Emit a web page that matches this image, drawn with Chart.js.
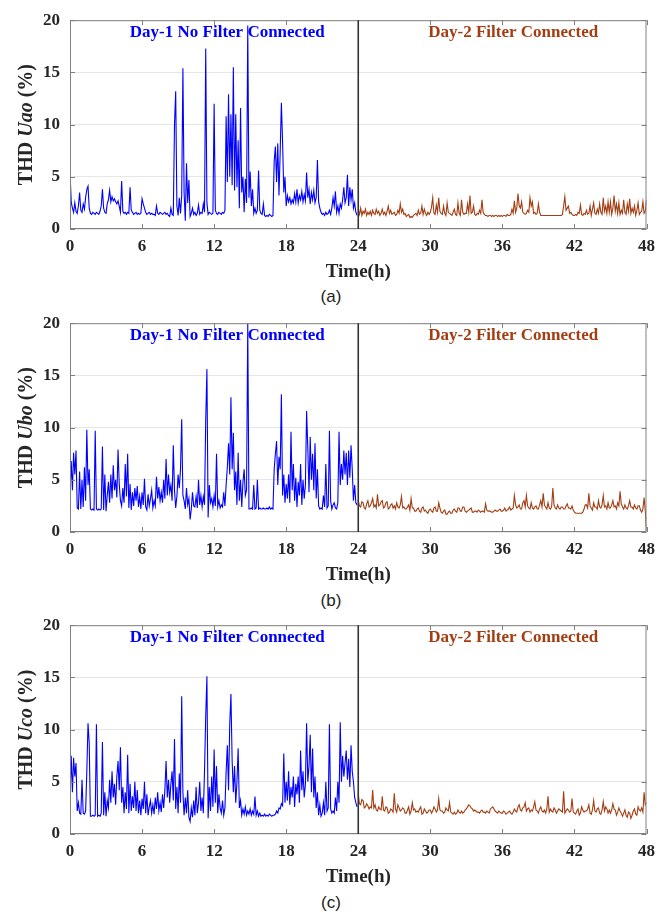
<!DOCTYPE html>
<html lang="en">
<head>
<meta charset="UTF-8">
<title>THD with and without filter</title>
<script src="https://cdn.jsdelivr.net/npm/chart.js"></script>
<style>
    body { margin: 0; background: #fff; }
    .panel { position: absolute; left: 0; width: 662px; height: 285px; }
    .caption {
        position: absolute; left: 0; width: 662px; text-align: center;
        font-family: "Liberation Sans", Arial, sans-serif; font-size: 17px; color: #222;
    }
</style>
</head>
<body>
<div class="panel" style="top:0px"><canvas id="chartA" width="662" height="285"></canvas></div>
<div class="caption" style="top:287px">(a)</div>
<div class="panel" style="top:303px"><canvas id="chartB" width="662" height="285"></canvas></div>
<div class="caption" style="top:591px">(b)</div>
<div class="panel" style="top:605px"><canvas id="chartC" width="662" height="285"></canvas></div>
<div class="caption" style="top:893px">(c)</div>

<script>
// sampling grid (hours)
const day1Start = 0, day1Step = 0.1;
const day2Start = 24, day2Step = 0.1;
const xTicksStep = 6, yTicksStep = 5;
const day1Label = 'Day-1 No Filter Connected';
const day2Label = 'Day-2 Filter Connected';
const xTitle = 'Time(h)';

// (a) THD Uao, day 1 - one row per hour
const uaoDay1 = [
    5.5, 2.6, 2.0, 1.6, 2.5, 1.7, 1.5, 2.2, 3.5, 1.8,
    1.6, 2.4, 1.9, 3.0, 3.8, 4.1, 2.0, 1.5, 1.4, 1.6,
    1.5, 1.4, 1.6, 1.5, 1.4, 1.7, 2.2, 3.8, 2.0, 1.6,
    1.5, 2.4, 2.8, 3.7, 2.6, 3.1, 2.7, 2.9, 2.6, 2.4,
    2.7, 2.2, 1.6, 4.6, 1.7, 1.5, 1.6, 1.4, 1.6, 1.5,
    4.0, 1.8, 1.6, 1.4, 1.5, 1.6, 1.4, 1.5, 1.4, 1.5,
    2.9, 2.4, 2.0, 1.6, 1.4, 1.5, 1.6, 1.4, 1.5, 1.4,
    1.4, 1.3, 2.2, 1.5, 1.4, 1.6, 1.5, 1.4, 1.5, 1.6,
    1.4, 1.5, 1.3, 1.2, 2.0, 1.4, 1.3, 10.0, 13.2, 2.2,
    1.3, 3.0, 1.5, 3.2, 15.4, 3.5, 0.8, 6.3, 2.5, 4.7,
    1.2, 1.5, 2.0, 1.4, 1.6, 1.3, 1.5, 2.3, 1.4, 1.6,
    1.5, 2.4, 1.6, 17.3, 2.5, 1.4, 1.6, 1.5, 1.4, 1.5,
    12.0, 1.8, 1.5, 1.4, 1.6, 1.5, 1.4, 1.6, 1.5, 1.8,
    10.8, 4.5, 12.9, 5.0, 11.0, 4.2, 15.5, 3.7, 11.0, 4.0,
    8.5, 2.0, 11.6, 3.5, 5.0, 1.6, 4.8, 2.5, 19.5, 3.0,
    5.5, 2.2, 3.8, 1.5, 2.0, 1.5, 1.8, 5.6, 1.8, 1.5,
    1.4, 2.4, 1.3, 1.2, 1.3, 1.2, 1.4, 1.3, 1.2, 1.3,
    6.5, 7.9, 4.5, 8.2, 3.2, 7.4, 12.1, 8.3, 3.5, 5.0,
    2.2, 3.2, 2.6, 3.0, 2.4, 2.8, 2.5, 3.4, 2.6, 3.8,
    2.5, 3.2, 2.8, 3.6, 2.6, 3.3, 2.7, 5.4, 3.0, 3.8,
    2.4, 3.5, 2.8, 3.7, 2.5, 3.0, 6.6, 2.6, 2.0, 1.6,
    1.4, 1.5, 1.3, 1.6, 1.4, 1.5, 1.8, 1.4, 2.0, 3.0,
    2.2, 3.6, 1.6, 2.2, 1.5, 2.4, 2.0, 2.8, 4.0, 2.5,
    3.0, 5.2, 2.2, 4.0, 2.8, 3.8, 2.0, 2.5, 1.6, 1.3
];
// (a) day 2 - one row per hour, last value at 48 h
const uaoDay2 = [
    1.8, 1.4, 2.0, 1.3, 1.7, 1.5, 1.9, 1.3, 1.6, 1.4,
    1.7, 1.3, 1.8, 1.5, 1.4, 1.9, 1.5, 1.7, 1.3, 1.5,
    1.9, 1.4, 1.6, 1.3, 1.7, 2.2, 1.5, 1.8, 1.4, 1.5,
    1.6, 1.3, 1.4, 1.8, 1.5, 2.4, 1.6, 1.9, 1.4, 1.5,
    1.2, 1.3, 1.4, 1.1, 1.2, 1.1, 1.3, 1.4, 1.5, 1.3,
    1.8, 1.4, 1.5, 2.2, 1.4, 1.9, 1.5, 1.3, 1.6, 1.4,
    1.6, 2.1, 3.0, 1.5, 1.4, 2.3, 1.6, 3.0, 1.7, 1.5,
    1.4, 2.2, 1.5, 1.3, 2.5, 1.6, 1.5, 1.4, 1.3, 1.6,
    1.9, 1.4, 1.3, 2.5, 1.5, 1.3, 2.8, 1.6, 1.4, 1.5,
    1.5, 2.4, 1.6, 3.2, 1.5, 1.6, 2.2, 1.4, 1.3, 1.5,
    1.4, 1.8, 1.5, 2.8, 1.6, 1.4, 1.3, 1.3, 1.2, 1.3,
    1.3, 1.2, 1.3, 1.2, 1.3, 1.3, 1.2, 1.3, 1.2, 1.3,
    1.2, 1.3, 1.3, 1.2, 1.4, 1.3, 1.3, 1.4, 1.9, 1.5,
    2.7, 1.6, 2.0, 3.4, 2.2, 2.0, 2.6, 1.6, 1.5, 1.4,
    1.5, 1.8, 1.6, 3.0, 2.2, 2.6, 1.5, 1.6, 1.4, 1.5,
    2.4, 1.6, 1.3, 1.3, 1.3, 1.3, 1.3, 1.3, 1.3, 1.3,
    1.3, 1.3, 1.3, 1.3, 1.3, 1.3, 1.3, 1.3, 1.3, 1.3,
    1.4, 2.2, 3.1, 1.8, 2.0, 2.2, 1.5, 1.6, 1.4, 1.3,
    1.3, 1.4, 1.3, 1.6, 1.5, 2.3, 1.4, 1.3, 1.5, 1.4,
    1.8, 1.4, 1.5, 2.2, 1.3, 1.9, 2.5, 1.5, 1.4, 1.9,
    1.5, 2.4, 1.6, 1.4, 3.0, 1.7, 2.2, 1.5, 2.6, 1.6,
    2.6, 1.4, 2.0, 3.2, 1.7, 2.4, 1.5, 2.5, 1.4, 1.8,
    1.5, 2.8, 1.6, 1.4, 2.4, 1.7, 2.9, 1.5, 2.0, 1.6,
    2.2, 1.3, 1.8, 2.5, 1.4, 1.6, 1.7, 2.6, 1.5, 1.7,
    2.8
];

// (b) THD Ubo
const uboDay1 = [
    3.5, 6.8, 4.0, 7.6, 5.5, 7.8, 2.3, 2.2, 5.8, 2.2,
    5.0, 2.4, 6.2, 3.0, 9.8, 4.5, 6.0, 2.2, 2.1, 2.2,
    2.1, 9.7, 2.2, 2.1, 2.2, 2.1, 2.2, 8.2, 2.1, 5.5,
    2.0, 3.5, 4.8, 2.8, 5.5, 3.2, 6.4, 4.0, 5.0, 3.3,
    7.9, 4.6, 3.0, 2.5, 4.2, 2.8, 6.5, 3.4, 7.5, 2.3,
    4.6, 2.1, 3.8, 2.5, 4.2, 3.0, 4.4, 2.4, 3.4, 2.2,
    3.8, 2.6, 5.1, 2.4, 2.1, 3.6, 2.5, 3.2, 4.0, 2.3,
    3.0, 2.5, 5.3, 3.2, 4.3, 3.0, 3.8, 2.8, 5.0, 3.2,
    7.0, 3.5, 5.5, 3.8, 4.5, 3.0, 8.3, 4.0, 2.3, 3.4,
    5.5, 4.2, 6.0, 10.8, 3.5, 3.0, 2.2, 4.2, 2.6, 3.2,
    1.2, 2.2, 3.8, 2.5, 2.4, 3.4, 2.3, 5.0, 2.6, 3.5,
    2.4, 3.4, 2.6, 10.7, 15.6, 1.4, 4.5, 2.8, 3.2, 2.4,
    3.5, 2.5, 7.5, 2.4, 3.0, 2.3, 2.6, 2.4, 3.8, 2.5,
    4.5, 6.2, 8.5, 5.5, 12.9, 6.0, 9.5, 4.0, 5.8, 2.6,
    7.6, 3.0, 5.0, 2.4, 4.8, 6.0, 3.5, 4.0, 20.0, 2.2,
    2.2, 2.3, 2.2, 4.5, 2.2, 2.3, 5.0, 2.2, 2.3, 2.2,
    2.2, 2.3, 2.2, 2.2, 2.3, 2.2, 2.4, 2.2, 2.3, 2.2,
    6.0, 7.5, 8.7, 4.5, 7.2, 6.0, 13.2, 3.5, 5.5, 2.8,
    4.6, 3.2, 5.5, 2.8, 9.6, 4.0, 6.5, 3.0, 5.2, 2.4,
    4.8, 3.5, 6.5, 2.6, 5.0, 3.2, 4.5, 11.6, 8.0, 3.8,
    9.1, 5.0, 7.5, 4.0, 8.5, 3.2, 6.0, 2.5, 2.2, 2.3,
    2.2, 3.5, 2.4, 6.5, 2.3, 2.5, 9.7, 3.0, 2.2, 2.6,
    2.8, 2.3, 2.2, 2.8, 9.6, 4.5, 6.5, 5.0, 7.8, 5.5,
    7.6, 4.5, 7.8, 5.2, 8.3, 6.0, 3.0, 4.5, 2.8, 2.6
];
const uboDay2 = [
    3.0, 2.5, 2.4, 2.9, 2.8, 2.3, 2.2, 2.7, 3.0, 2.4,
    2.5, 2.8, 3.2, 2.4, 2.6, 2.3, 3.6, 2.5, 2.6, 2.9,
    3.0, 2.3, 2.4, 2.8, 2.9, 2.2, 2.3, 2.6, 2.7, 2.3,
    2.5, 2.2, 2.8, 2.4, 2.3, 2.6, 3.4, 2.3, 2.4, 2.2,
    2.2, 2.4, 2.6, 2.1, 3.2, 2.3, 2.3, 2.0, 2.0, 2.2,
    2.3, 2.0, 1.9, 2.3, 2.4, 2.0, 2.1, 1.9, 1.8, 2.1,
    2.2, 2.0, 1.9, 2.3, 2.4, 2.0, 2.0, 2.8, 2.3, 1.9,
    1.8, 2.0, 2.1, 1.7, 1.7, 1.9, 2.0, 1.8, 1.8, 2.1,
    2.2, 2.0, 1.9, 2.3, 2.3, 2.0, 2.0, 2.4, 2.4, 2.0,
    1.9, 2.0, 2.1, 2.2, 2.3, 1.9, 1.9, 2.0, 2.0, 1.9,
    2.1, 2.0, 1.9, 2.0, 2.0, 1.9, 2.7, 2.1, 2.0, 2.0,
    2.0, 1.9, 1.9, 2.0, 2.1, 2.0, 2.0, 2.1, 2.2, 2.0,
    2.0, 2.1, 2.3, 2.0, 2.1, 2.2, 2.4, 2.1, 2.2, 2.3,
    3.5, 2.6, 2.3, 2.4, 2.6, 2.2, 2.2, 2.8, 3.0, 2.4,
    3.5, 2.5, 2.3, 2.2, 2.8, 2.3, 2.2, 2.4, 2.5, 2.2,
    2.2, 2.6, 3.0, 2.4, 3.7, 2.6, 2.4, 2.2, 2.8, 2.3,
    2.2, 2.4, 4.2, 2.6, 2.3, 2.2, 2.6, 2.3, 2.2, 2.4,
    2.4, 2.2, 2.2, 2.5, 2.7, 2.3, 2.3, 2.2, 2.5, 2.1,
    1.9, 1.8, 1.8, 1.8, 1.8, 1.8, 1.8, 1.9, 2.2, 2.6,
    2.6, 2.3, 3.7, 2.5, 2.3, 2.1, 2.8, 2.4, 2.4, 2.2,
    3.0, 2.4, 2.3, 2.6, 3.5, 2.4, 2.5, 2.2, 2.8, 2.3,
    2.3, 2.6, 3.0, 2.4, 2.5, 2.2, 2.8, 2.5, 3.9, 2.7,
    2.4, 2.2, 2.6, 2.3, 2.2, 2.5, 3.0, 2.4, 2.4, 2.2,
    2.6, 2.3, 2.2, 2.5, 2.5, 2.1, 1.9, 2.2, 3.3, 2.0,
    0.1
];

// (c) THD Uco
const ucoDay1 = [
    3.5, 7.5, 4.0, 7.3, 5.5, 6.8, 2.2, 3.0, 2.0, 1.9,
    5.2, 2.0, 1.9, 2.2, 6.0, 10.6, 8.7, 1.7, 1.7, 1.8,
    1.7, 1.8, 10.5, 1.7, 1.8, 1.7, 2.0, 8.8, 1.8, 4.0,
    1.7, 3.2, 2.5, 5.2, 3.0, 6.0, 3.5, 4.8, 2.8, 5.5,
    7.0, 4.2, 8.3, 3.0, 4.5, 2.0, 4.0, 2.4, 7.6, 2.0,
    4.8, 2.2, 3.6, 2.5, 5.0, 2.2, 4.2, 2.0, 3.2, 1.8,
    3.4, 2.4, 5.0, 2.0, 3.8, 1.8, 2.6, 3.2, 2.0, 2.8,
    1.9, 3.5, 2.4, 4.0, 2.2, 3.0, 2.1, 3.8, 2.5, 4.2,
    7.0, 3.5, 5.2, 3.0, 4.8, 6.0, 3.2, 9.1, 2.4, 4.5,
    2.0, 5.8, 3.0, 13.2, 4.0, 1.8, 3.5, 2.0, 4.2, 1.6,
    1.2, 2.5, 1.6, 3.2, 1.8, 4.5, 2.0, 3.0, 5.0, 2.2,
    3.5, 2.0, 6.0, 11.3, 15.1, 1.5, 4.5, 2.2, 5.5, 2.6,
    8.1, 3.0, 6.5, 2.0, 3.8, 2.5, 2.0, 3.2, 1.8, 2.5,
    6.0, 8.5, 4.2, 10.5, 13.4, 7.0, 4.0, 6.5, 3.0, 5.0,
    8.2, 2.5, 3.2, 1.8, 2.4, 1.9, 2.6, 1.8, 2.2, 1.9,
    2.4, 1.8, 2.2, 1.9, 3.6, 1.8, 2.2, 1.7, 2.0, 1.7,
    1.8, 1.7, 1.9, 1.7, 1.8, 1.7, 1.9, 1.8, 1.7, 1.8,
    1.8, 1.9, 2.2, 2.0, 2.5, 2.4, 2.9, 2.7, 7.7, 3.0,
    5.0, 3.2, 6.0, 2.8, 4.5, 3.5, 5.5, 2.6, 4.8, 3.8,
    5.5, 3.0, 8.0, 4.2, 6.0, 3.5, 4.8, 10.6, 5.0, 6.5,
    9.5, 4.0, 8.2, 3.5, 5.5, 2.5, 4.0, 1.8, 2.8, 1.7,
    2.0, 3.0, 1.8, 5.0, 2.2, 2.5, 10.5, 2.4, 2.0, 2.2,
    2.0, 3.5, 2.2, 5.0, 3.0, 10.7, 5.0, 7.5, 5.5, 6.8,
    8.0, 5.2, 7.2, 4.5, 8.5, 6.0, 5.0, 3.5, 3.0, 2.6
];
const ucoDay2 = [
    3.8, 2.9, 2.8, 3.3, 3.2, 2.5, 2.6, 2.9, 2.7, 2.4,
    2.6, 2.5, 4.2, 2.5, 2.8, 2.3, 2.2, 2.6, 2.4, 2.3,
    3.6, 2.3, 2.2, 2.6, 2.5, 2.0, 2.1, 2.4, 2.3, 2.1,
    3.9, 2.4, 2.1, 2.8, 2.5, 2.2, 2.3, 2.5, 2.4, 2.0,
    2.0, 2.3, 2.6, 1.9, 2.2, 3.0, 2.3, 2.4, 2.1, 2.2,
    2.1, 2.4, 2.6, 1.9, 2.0, 2.4, 2.2, 2.0, 2.1, 2.3,
    2.3, 2.0, 2.2, 2.6, 2.4, 2.1, 2.3, 3.4, 2.3, 2.2,
    2.2, 2.0, 2.1, 2.5, 2.3, 2.2, 3.0, 2.1, 2.0, 1.9,
    2.1, 1.9, 2.0, 2.3, 2.1, 2.0, 2.2, 2.0, 2.1, 2.3,
    2.4, 2.6, 2.8, 2.7, 2.5, 2.4, 2.2, 2.3, 2.2, 2.1,
    2.1, 2.0, 2.2, 2.3, 2.1, 2.1, 2.0, 2.2, 2.1, 2.0,
    2.4, 2.5, 2.6, 2.4, 2.2, 2.1, 2.0, 2.2, 2.1, 2.0,
    2.0, 2.2, 2.1, 1.9, 2.0, 2.1, 2.2, 2.0, 1.9, 2.1,
    2.4, 2.2, 2.1, 2.6, 2.8, 2.3, 2.2, 2.5, 2.6, 3.0,
    2.2, 2.4, 2.5, 2.1, 2.3, 2.2, 2.6, 3.1, 2.3, 2.2,
    2.0, 2.4, 2.6, 2.2, 2.1, 2.3, 2.0, 2.4, 3.6, 2.1,
    2.4, 2.2, 2.1, 2.5, 2.3, 2.0, 2.2, 2.4, 2.3, 2.2,
    2.1, 4.1, 2.0, 2.2, 2.4, 2.3, 2.1, 2.2, 3.4, 2.1,
    2.0, 1.9, 2.2, 2.4, 1.8, 2.0, 2.6, 2.3, 2.1, 2.2,
    2.2, 2.4, 2.8, 2.0, 1.9, 2.3, 3.2, 2.2, 2.1, 2.4,
    2.5, 2.0, 1.9, 2.3, 3.1, 2.2, 2.6, 2.4, 2.0, 2.3,
    2.0, 2.3, 2.9, 2.4, 2.3, 1.8, 2.1, 2.5, 2.2, 2.0,
    1.7, 2.0, 2.3, 1.8, 1.6, 2.1, 2.0, 1.5, 1.8, 2.2,
    2.4, 1.9, 1.8, 2.6, 2.3, 2.2, 2.5, 2.1, 4.0, 2.8,
    3.0
];

const blue = '#0000ff';
const brown = '#a33d12';
const serif = '"Liberation Serif", "Times New Roman", serif';

const toPoints = (start, step, values) =>
    values.map((v, i) => ({ x: +(start + i * step).toFixed(2), y: v }));

// frame, inward ticks, day divider, labels and the mixed-font y title
const framePlugin = {
    id: 'frame',
    afterDatasetsDraw(chart) {
        const { ctx, chartArea: a, scales: { x, y } } = chart;
        ctx.save();
        ctx.strokeStyle = '#808080';
        ctx.lineWidth = 1;
        ctx.strokeRect(a.left + 0.5, a.top + 0.5, a.right - a.left - 1, a.bottom - a.top - 1);
        ctx.beginPath();
        x.ticks.forEach(t => {
            const px = Math.round(x.getPixelForValue(t.value)) + 0.5;
            ctx.moveTo(px, a.bottom); ctx.lineTo(px, a.bottom - 5);
            ctx.moveTo(px, a.top); ctx.lineTo(px, a.top + 5);
        });
        y.ticks.forEach(t => {
            const py = Math.round(y.getPixelForValue(t.value)) + 0.5;
            ctx.moveTo(a.left, py); ctx.lineTo(a.left + 5, py);
            ctx.moveTo(a.right, py); ctx.lineTo(a.right - 5, py);
        });
        ctx.stroke();

        const xd = x.getPixelForValue(24);
        ctx.strokeStyle = '#333333';
        ctx.lineWidth = 1.6;
        ctx.beginPath();
        ctx.moveTo(xd, a.top); ctx.lineTo(xd, a.bottom);
        ctx.stroke();

        ctx.font = 'bold 17px ' + serif;
        ctx.textAlign = 'center';
        ctx.textBaseline = 'middle';
        ctx.fillStyle = blue;
        ctx.fillText(day1Label, x.getPixelForValue(13.1), y.getPixelForValue(18.8));
        ctx.fillStyle = brown;
        ctx.fillText(day2Label, x.getPixelForValue(36.9), y.getPixelForValue(18.8));
        ctx.restore();
    },
    afterDraw(chart, args, opts) {
        const { ctx, chartArea: a } = chart;
        const parts = [
            { text: 'THD ', font: 'bold 20px ' + serif },
            { text: opts.sub, font: 'italic bold 20px ' + serif },
            { text: ' (%)', font: 'bold 20px ' + serif }
        ];
        ctx.save();
        let total = 0;
        parts.forEach(p => { ctx.font = p.font; p.w = ctx.measureText(p.text).width; total += p.w; });
        ctx.translate(27, (a.top + a.bottom) / 2);
        ctx.rotate(-Math.PI / 2);
        ctx.fillStyle = '#262626';
        ctx.textBaseline = 'middle';
        ctx.textAlign = 'left';
        let cx = -total / 2;
        parts.forEach(p => { ctx.font = p.font; ctx.fillText(p.text, cx, 0); cx += p.w; });
        ctx.restore();
    }
};

const makeChart = (id, sub, day1, day2) => new Chart(document.getElementById(id), {
    type: 'line',
    data: {
        datasets: [
            {
                data: toPoints(day1Start, day1Step, day1),
                borderColor: blue,
                borderWidth: 1.1,
                pointRadius: 0,
                tension: 0
            },
            {
                data: toPoints(day2Start, day2Step, day2),
                borderColor: brown,
                borderWidth: 1.1,
                pointRadius: 0,
                tension: 0
            }
        ]
    },
    options: {
        responsive: false,
        animation: false,
        layout: { padding: { top: 15, right: 14, left: 0, bottom: 0 } },
        plugins: {
            legend: { display: false },
            tooltip: { enabled: false },
            frame: { sub: sub }
        },
        scales: {
            x: {
                type: 'linear',
                min: 0,
                max: 48,
                grid: { display: false, drawTicks: false },
                border: { display: false },
                ticks: {
                    stepSize: xTicksStep,
                    padding: 7,
                    color: '#262626',
                    font: { family: serif, size: 17, weight: 'bold' }
                },
                title: {
                    display: true,
                    text: xTitle,
                    color: '#262626',
                    padding: { top: 0, bottom: 2 },
                    font: { family: serif, size: 19, weight: 'bold' }
                },
                afterFit(scale) { scale.height = 56; }
            },
            y: {
                min: 0,
                max: 20,
                grid: { color: '#e6e6e6', drawTicks: false },
                border: { display: false },
                ticks: {
                    stepSize: yTicksStep,
                    padding: 10,
                    color: '#262626',
                    font: { family: serif, size: 17, weight: 'bold' }
                },
                afterFit(scale) { scale.width = 70; }
            }
        }
    },
    plugins: [framePlugin]
});

makeChart('chartA', 'Uao', uaoDay1, uaoDay2);
makeChart('chartB', 'Ubo', uboDay1, uboDay2);
makeChart('chartC', 'Uco', ucoDay1, ucoDay2);
</script>
</body>
</html>
